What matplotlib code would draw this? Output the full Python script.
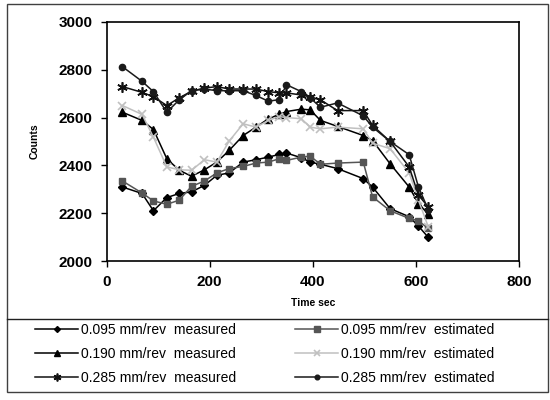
import matplotlib
matplotlib.use("Agg")
import matplotlib.pyplot as plt
from matplotlib.patches import Rectangle
from matplotlib.lines import Line2D

plt.rcParams['font.family'] = ['Liberation Sans', 'DejaVu Sans']

# time axis (sec), shared by all series
time_sec = [31, 69, 91, 117, 141, 165, 190, 214, 238, 265, 290, 314,
            335, 349, 378, 395, 415, 448, 498, 516, 550, 587, 605, 624]

# counts
m095 = [2310, 2283, 2211, 2266, 2283, 2290, 2317, 2359, 2369, 2414, 2424, 2435,
        2446, 2452, 2432, 2414, 2405, 2387, 2345, 2310, 2220, 2186, 2147, 2100]
e095 = [2335, 2285, 2252, 2238, 2255, 2313, 2335, 2369, 2387, 2396, 2410, 2414,
        2428, 2421, 2435, 2439, 2405, 2410, 2414, 2269, 2211, 2179, 2169, 2137]
m190 = [2622, 2588, 2550, 2428, 2380, 2355, 2382, 2414, 2463, 2525, 2560, 2595,
        2613, 2625, 2635, 2632, 2588, 2563, 2525, 2504, 2407, 2310, 2241, 2197]
e190 = [2650, 2613, 2518, 2394, 2382, 2380, 2424, 2414, 2502, 2574, 2560, 2588,
        2604, 2600, 2595, 2560, 2553, 2560, 2553, 2493, 2470, 2369, 2255, 2144]
m285 = [2729, 2705, 2687, 2650, 2682, 2710, 2723, 2729, 2719, 2719, 2719, 2708,
        2703, 2703, 2694, 2687, 2674, 2629, 2629, 2567, 2500, 2394, 2276, 2227]
e285 = [2812, 2751, 2708, 2622, 2674, 2712, 2719, 2712, 2712, 2712, 2692, 2668,
        2675, 2737, 2708, 2682, 2643, 2661, 2607, 2560, 2500, 2445, 2310, 2216]

labels = ["0.095 mm/rev  measured", "0.190 mm/rev  measured", "0.285 mm/rev  measured",
          "0.095 mm/rev  estimated", "0.190 mm/rev  estimated", "0.285 mm/rev  estimated"]

fig = plt.figure(figsize=(5.5, 4), dpi=100)
ax = fig.add_axes([106.5 / 550, 1 - 261.3 / 400, (519 - 106.5) / 550, (261.3 - 21.7) / 400])

lw = 1.1
h1, = ax.plot(time_sec, m095, color="black", marker="D", ms=4, lw=lw)
h2, = ax.plot(time_sec, e095, color="#555555", marker="s", ms=5, lw=lw)
h3, = ax.plot(time_sec, m190, color="black", marker="^", ms=6, lw=lw)
h4, = ax.plot(time_sec, e190, color="#c0c0c0", marker="x", ms=5.5, mew=1.2, lw=lw)
h5, = ax.plot(time_sec, m285, color="#111111", marker=(6, 2, 0), ms=7.5, mew=1.2, lw=lw)
h6, = ax.plot(time_sec, e285, color="#1a1a1a", marker="o", ms=4.5, lw=lw)

ax.set_xlim(0, 800)
ax.set_ylim(2000, 3000)
ax.set_xticks([0, 200, 400, 600, 800])
ax.set_yticks([2000, 2200, 2400, 2600, 2800, 3000])
ax.tick_params(direction="out", length=4, width=1, labelsize=11, pad=6)
for t in ax.get_xticklabels() + ax.get_yticklabels():
    t.set_fontweight("bold")
for s in ax.spines.values():
    s.set_linewidth(1.2)
ax.set_xlabel("Time sec", fontsize=7.5, fontweight="bold", labelpad=6)
ax.set_ylabel("Counts", fontsize=7.5, fontweight="bold", labelpad=14)

legkw = dict(frameon=False, fontsize=10, handlelength=3.1, handletextpad=0.2,
             labelspacing=0.72, borderpad=0, borderaxespad=0, loc="upper left",
             markerscale=0.75)
fig.legend([h1, h3, h5], labels[:3], bbox_to_anchor=(35 / 550, 1 - 323 / 400), **legkw)
fig.legend([h2, h4, h6], labels[3:], bbox_to_anchor=(295 / 550, 1 - 323 / 400), **legkw)

# outer frame and separator
fig.add_artist(Rectangle((7 / 550, 1 - 392 / 400), 541 / 550, 388 / 400,
                         transform=fig.transFigure, fill=False, ec="#404040", lw=1))
fig.add_artist(Line2D([7 / 550, 548 / 550], [1 - 319 / 400] * 2,
                      transform=fig.transFigure, color="#202020", lw=1))

fig.savefig("out.png", dpi=100, facecolor="white")
